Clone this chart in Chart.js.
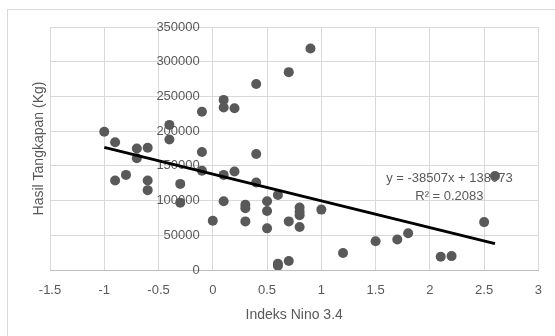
<!DOCTYPE html>
<html>
<head>
<meta charset="utf-8">
<script src="https://cdn.jsdelivr.net/npm/chart.js@4/dist/chart.umd.min.js"></script>
<style>
  html, body { margin: 0; padding: 0; background: #fff; overflow: hidden; }
  #frame { position: absolute; left: 7px; top: 9px; width: 600px; height: 400px; border: 1px solid #d9d9d9; }
  #wrap { position: absolute; left: 0; top: 0; width: 555px; height: 336px; }
</style>
</head>
<body>
<div id="frame"></div>
<div id="wrap"><canvas id="chart"></canvas></div>
<script>
// Indeks Nino 3.4 vs hasil tangkapan
const ninoIndex = [
  -1.0, -0.9, -0.9, -0.8, -0.7, -0.7, -0.6, -0.6, -0.6, -0.4,
  -0.4, -0.3, -0.3, -0.1, -0.1, -0.1, 0.0, 0.1, 0.1, 0.1,
  0.1, 0.2, 0.2, 0.3, 0.3, 0.3, 0.4, 0.4, 0.4, 0.5,
  0.5, 0.5, 0.6, 0.6, 0.6, 0.7, 0.7, 0.7, 0.8, 0.8,
  0.8, 0.8, 0.9, 1.0, 1.2, 1.5, 1.7, 1.8, 2.1, 2.2,
  2.5, 2.6
];
const catchKg = [
  199000, 184000, 129000, 137000, 175000, 161000, 176000, 129000, 115000, 209000,
  188000, 124000, 97000, 228000, 170000, 143000, 71000, 245000, 234000, 137000,
  99000, 233000, 142000, 94000, 89000, 70000, 268000, 167000, 126000, 99000,
  85000, 60000, 108000, 9000, 6000, 285000, 70000, 13000, 90000, 84000,
  79000, 62000, 319000, 87000, 24500, 41500, 44000, 53000, 19000, 20000,
  69000, 135500
];

// linear trendline as printed on the chart
const trendSlope = -38507;
const trendIntercept = 138073;
const trendR2 = 0.2083;
const trendRange = [-1.0, 2.6];

const xMin = -1.5, xMax = 3, xStep = 0.5;
const yMin = 0, yMax = 350000, yStep = 50000;

const textColor = "#595959";
const gridColor = "#d9d9d9";
const fontFamily = "'Liberation Sans', Arial, sans-serif";

const scatterPoints = ninoIndex.map((x, i) => ({ x: x, y: catchKg[i] }));
const trendPoints = trendRange.map(x => ({ x: x, y: trendSlope * x + trendIntercept }));

const equationLabel = {
  id: "equationLabel",
  afterDatasetsDraw(chart) {
    const { ctx, scales } = chart;
    const cx = scales.x.getPixelForValue(2.18);
    ctx.save();
    ctx.fillStyle = textColor;
    ctx.font = "13px " + fontFamily;
    ctx.textAlign = "center";
    ctx.textBaseline = "middle";
    ctx.fillText("y = " + trendSlope + "x + " + trendIntercept, cx, scales.y.getPixelForValue(132500));
    ctx.fillText("R\u00b2 = " + trendR2, cx, scales.y.getPixelForValue(106500));
    ctx.restore();
  }
};

new Chart(document.getElementById("chart"), {
  type: "scatter",
  data: {
    datasets: [
      {
        type: "line",
        data: trendPoints,
        borderColor: "#000",
        borderWidth: 3,
        pointRadius: 0,
        fill: false
      },
      {
        data: scatterPoints,
        backgroundColor: textColor,
        borderWidth: 0,
        pointRadius: 5,
        pointHoverRadius: 5
      }
    ]
  },
  options: {
    responsive: true,
    maintainAspectRatio: false,
    animation: false,
    layout: { padding: { top: 27, right: 16, left: 0, bottom: 0 } },
    plugins: { legend: { display: false }, tooltip: { enabled: false } },
    scales: {
      x: {
        type: "linear",
        min: xMin,
        max: xMax,
        ticks: {
          stepSize: xStep,
          color: textColor,
          font: { family: fontFamily, size: 13 },
          padding: 13,
          callback: v => String(v)
        },
        grid: { color: gridColor, drawTicks: false },
        border: { color: "#bfbfbf" },
        title: {
          display: true,
          text: "Indeks Nino 3.4",
          color: textColor,
          font: { family: fontFamily, size: 14 },
          padding: { top: 0, bottom: 12 }
        },
        afterFit: s => { s.height = 66; }
      },
      y: {
        type: "linear",
        position: "left",
        min: yMin,
        max: yMax,
        ticks: { display: false, stepSize: yStep },
        grid: { color: gridColor, drawTicks: false },
        border: { display: false },
        title: {
          display: true,
          text: "Hasil Tangkapan (Kg)",
          color: textColor,
          font: { family: fontFamily, size: 14 },
          padding: { top: 31, bottom: 0 }
        },
        afterFit: s => { s.width = 50; }
      },
      // value labels sit just left of the x = 0 axis
      yLabels: {
        type: "linear",
        position: { x: -0.12 },
        min: yMin,
        max: yMax,
        ticks: {
          stepSize: yStep,
          color: textColor,
          font: { family: fontFamily, size: 13 },
          callback: v => String(v)
        },
        grid: { display: false, drawTicks: false },
        border: { display: false },
        afterFit: s => { s.width = 0; }
      }
    }
  },
  plugins: [equationLabel]
});
</script>
</body>
</html>
